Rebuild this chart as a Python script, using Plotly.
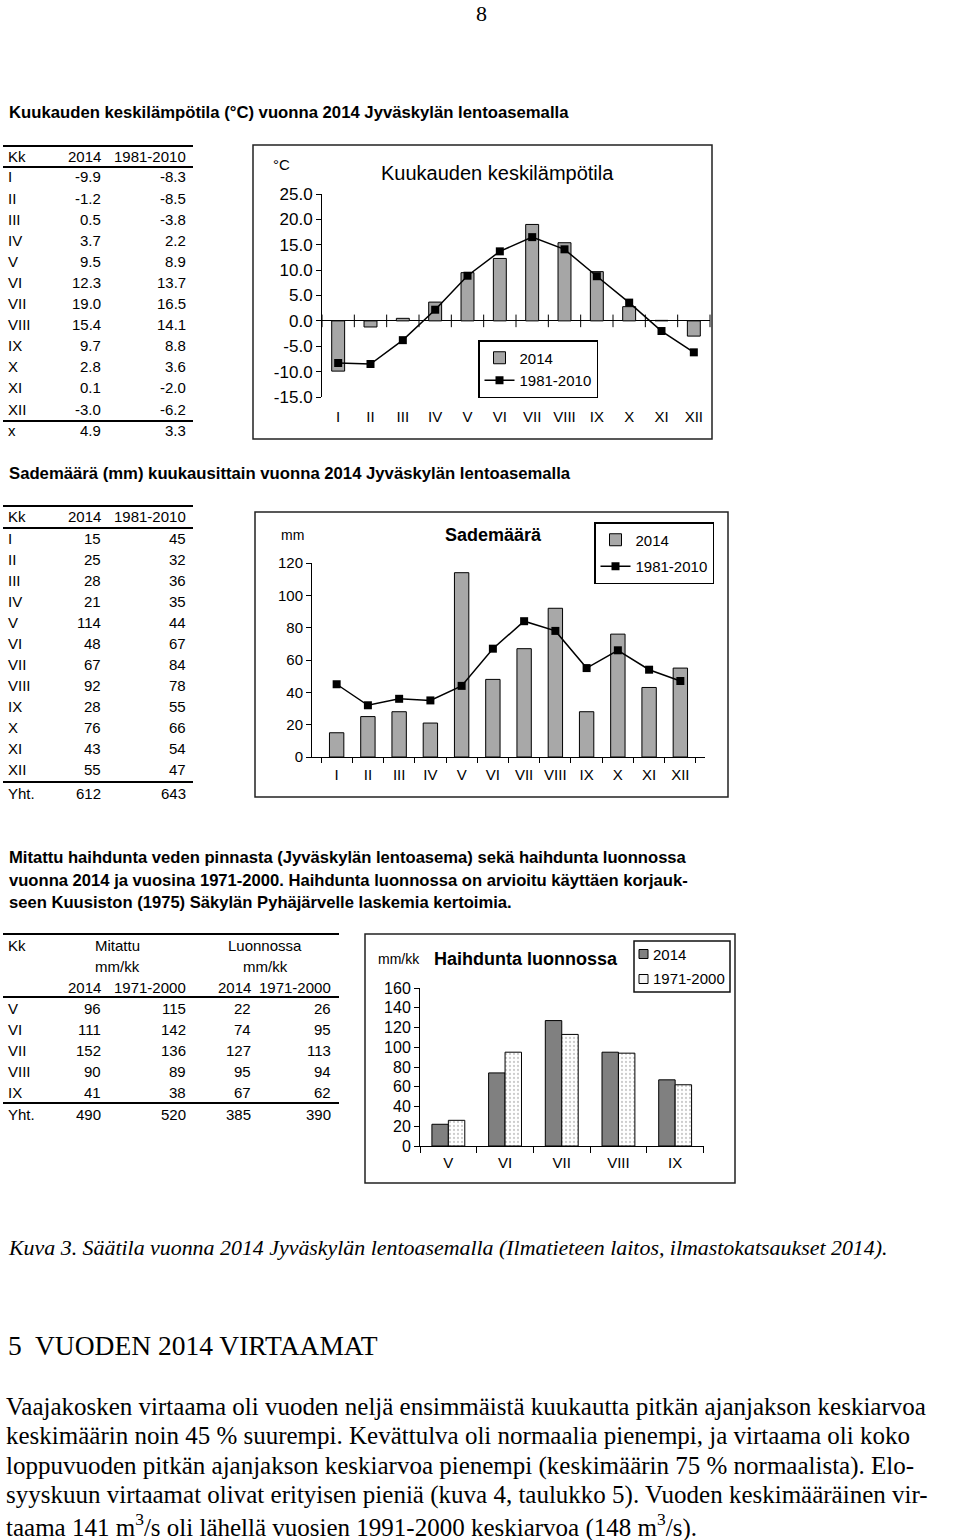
import plotly.graph_objects as go

W, H = 960, 1540
SANS = "Liberation Sans, Arial, sans-serif"
SERIF = "Liberation Serif, Times New Roman, serif"

# --- data -------------------------------------------------------------
months = ['I', 'II', 'III', 'IV', 'V', 'VI', 'VII', 'VIII', 'IX', 'X', 'XI', 'XII']
temp_2014 = [-9.9, -1.2, 0.5, 3.7, 9.5, 12.3, 19.0, 15.4, 9.7, 2.8, 0.1, -3.0]
temp_norm = [-8.3, -8.5, -3.8, 2.2, 8.9, 13.7, 16.5, 14.1, 8.8, 3.6, -2.0, -6.2]
temp_mean = [4.9, 3.3]
temp_ticks = [-15, -10, -5, 0, 5, 10, 15, 20, 25]

rain_2014 = [15, 25, 28, 21, 114, 48, 67, 92, 28, 76, 43, 55]
rain_norm = [45, 32, 36, 35, 44, 67, 84, 78, 55, 66, 54, 47]
rain_total = [612, 643]

evap_months = ['V', 'VI', 'VII', 'VIII', 'IX']
evap_meas_2014 = [96, 111, 152, 90, 41]
evap_meas_norm = [115, 142, 136, 89, 38]
evap_nat_2014 = [22, 74, 127, 95, 67]
evap_nat_norm = [26, 95, 113, 94, 62]
evap_total = [490, 520, 385, 390]

col_2014_evap = '#808080'


def px(x):
    return x / W


def py(y):
    return 1 - y / H


ann = []
shapes = []


def text(x, y, s, size=15, anchor='left', family=SANS):
    ann.append(dict(x=px(x), y=py(y), xref='paper', yref='paper', text=s,
                    showarrow=False, xanchor=anchor, yanchor='middle',
                    font=dict(size=size, family=family, color='black')))


def rule(x0, x1, y, w=2):
    shapes.append(dict(type='line', xref='paper', yref='paper', x0=px(x0), x1=px(x1),
                       y0=py(y), y1=py(y), line=dict(color='black', width=w)))


def frame(x0, y0, x1, y1, w=1.5, fill='rgba(0,0,0,0)', color='#222'):
    shapes.append(dict(type='rect', xref='paper', yref='paper', x0=px(x0), x1=px(x1),
                       y0=py(y0), y1=py(y1), fillcolor=fill, line=dict(color=color, width=w)))


# --- page texts --------------------------------------------------------
text(481, 13, '8', size=22, anchor='center', family=SERIF)
text(7, 113, '<b>Kuukauden keskilämpötila (°C) vuonna 2014 Jyväskylän lentoasemalla</b>', size=16.7)
text(7, 474, '<b>Sademäärä (mm) kuukausittain vuonna 2014 Jyväskylän lentoasemalla</b>', size=16.7)
evap_par = ['Mitattu haihdunta veden pinnasta (Jyväskylän lentoasema) sekä haihdunta luonnossa',
            'vuonna 2014 ja vuosina 1971-2000. Haihdunta luonnossa on arvioitu käyttäen korjauk-',
            'seen Kuusiston (1975) Säkylän Pyhäjärvelle laskemia kertoimia.']
for i, line in enumerate(evap_par):
    text(7, 857 + 23 * i, '<b>' + line + '</b>', size=16.6)

text(6, 1247, '<i>Kuva 3. Säätila vuonna 2014 Jyväskylän lentoasemalla (Ilmatieteen laitos, ilmastokatsaukset 2014).</i>',
     size=21.9, family=SERIF)
text(6, 1345, '5  VUODEN 2014 VIRTAAMAT', size=27.5, family=SERIF)
body = ['Vaajakosken virtaama oli vuoden neljä ensimmäistä kuukautta pitkän ajanjakson keskiarvoa',
        'keskimäärin noin 45 % suurempi. Kevättulva oli normaalia pienempi, ja virtaama oli koko',
        'loppuvuoden pitkän ajanjakson keskiarvoa pienempi (keskimäärin 75 % normaalista). Elo-',
        'syyskuun virtaamat olivat erityisen pieniä (kuva 4, taulukko 5). Vuoden keskimääräinen vir-',
        'taama 141 m<sup>3</sup>/s oli lähellä vuosien 1991-2000 keskiarvoa (148 m<sup>3</sup>/s).']
for i, line in enumerate(body):
    text(4, 1406 + 29.8 * i, line, size=25, family=SERIF)

# --- table 1: temperature ---------------------------------------------
rule(3, 193, 146)
text(6, 156, 'Kk')
text(103, 156, '2014', anchor='right')
text(188, 156, '1981-2010', anchor='right')
rule(3, 193, 167)
for i, m in enumerate(months):
    yy = 177 + 21.1 * i
    text(6, yy, m)
    text(103, yy, f'{temp_2014[i]:.1f}', anchor='right')
    text(188, yy, f'{temp_norm[i]:.1f}', anchor='right')
rule(3, 193, 421)
text(6, 431, 'x')
text(103, 431, f'{temp_mean[0]:.1f}', anchor='right')
text(188, 431, f'{temp_mean[1]:.1f}', anchor='right')

# --- table 2: precipitation -------------------------------------------
rule(3, 193, 506)
text(6, 517, 'Kk')
text(103, 517, '2014', anchor='right')
text(188, 517, '1981-2010', anchor='right')
rule(3, 193, 528)
for i, m in enumerate(months):
    yy = 538.5 + 21 * i
    text(6, yy, m)
    text(103, yy, str(rain_2014[i]), anchor='right')
    text(188, yy, str(rain_norm[i]), anchor='right')
rule(3, 193, 782)
text(6, 793, 'Yht.')
text(103, 793, str(rain_total[0]), anchor='right')
text(188, 793, str(rain_total[1]), anchor='right')

# --- table 3: evaporation ---------------------------------------------
rule(3, 339, 934)
text(6, 945, 'Kk')
text(117, 945, 'Mitattu', anchor='center')
text(265, 945, 'Luonnossa', anchor='center')
text(117, 966, 'mm/kk', anchor='center')
text(265, 966, 'mm/kk', anchor='center')
for xr, lab in zip([103, 188, 253, 333], ['2014', '1971-2000', '2014', '1971-2000']):
    text(xr, 987, lab, anchor='right')
rule(3, 339, 997)
for i, m in enumerate(evap_months):
    yy = 1008 + 21 * i
    text(6, yy, m)
    vals = [evap_meas_2014[i], evap_meas_norm[i], evap_nat_2014[i], evap_nat_norm[i]]
    for xr, v in zip([103, 188, 253, 333], vals):
        text(xr, yy, str(v), anchor='right')
rule(3, 339, 1103)
text(6, 1114, 'Yht.')
for xr, v in zip([103, 188, 253, 333], evap_total):
    text(xr, 1114, str(v), anchor='right')

# --- chart frames and labels ------------------------------------------
frame(253, 145, 712, 439)
frame(255, 512, 728, 797)
frame(365, 934, 735, 1183)
text(281, 165, '°C', size=15, anchor='center')
text(497, 173, 'Kuukauden keskilämpötila', size=20, anchor='center')
text(292, 535, 'mm', size=14, anchor='center')
text(493, 535, '<b>Sademäärä</b>', size=18, anchor='center')
text(399, 959, 'mm/kk', size=14, anchor='center')
text(526, 959, '<b>Haihdunta luonnossa</b>', size=18, anchor='center')

# small legend box for the evaporation chart (plotly legend is too wide here)
frame(634, 941, 730, 992, w=1.5, fill='white', color='#111')
frame(639, 949.5, 648, 958.5, w=1, fill=col_2014_evap, color='black')
frame(639, 974.5, 648, 983.5, w=1, fill='#f4f4f4', color='black')
text(651, 954, '2014', size=15)
text(651, 979, '1971-2000', size=15)

fig = go.Figure()

# chart 1: temperature
idx = list(range(len(months)))
bounds = [i - 0.5 for i in range(len(months) + 1)]
fig.add_trace(go.Bar(x=idx, y=temp_2014, width=0.4, name='2014',
                     marker=dict(color='#a6a6a6', line=dict(color='black', width=1)),
                     xaxis='x', yaxis='y', legend='legend'))
fig.add_trace(go.Scatter(x=idx, y=temp_norm, mode='lines+markers', name='1981-2010',
                         line=dict(color='black', width=1.5),
                         marker=dict(symbol='square', size=8, color='black'),
                         xaxis='x', yaxis='y', legend='legend'))
fig.add_trace(go.Scatter(x=bounds, y=[0] * len(bounds), mode='markers', showlegend=False,
                         marker=dict(symbol='line-ns-open', size=9, color='black',
                                     line=dict(color='black', width=1)),
                         cliponaxis=False, hoverinfo='skip', xaxis='x', yaxis='y'))

# chart 2: precipitation
fig.add_trace(go.Bar(x=months, y=rain_2014, width=0.46, name='2014',
                     marker=dict(color='#a8a8a8', line=dict(color='black', width=1)),
                     xaxis='x2', yaxis='y2', legend='legend2', legendgroup='a'))
fig.add_trace(go.Scatter(x=months, y=rain_norm, mode='lines+markers', name='1981-2010',
                         line=dict(color='black', width=1.5),
                         marker=dict(symbol='square', size=8, color='black'),
                         xaxis='x2', yaxis='y2', legend='legend2', legendgroup='b'))

# chart 3: evaporation in nature
fig.add_trace(go.Bar(x=evap_months, y=evap_nat_2014, width=0.29, offset=-0.29, name='2014',
                     marker=dict(color=col_2014_evap, line=dict(color='black', width=1)),
                     xaxis='x3', yaxis='y3', showlegend=False))
fig.add_trace(go.Bar(x=evap_months, y=evap_nat_norm, width=0.29, offset=0, name='1971-2000',
                     marker=dict(color='white', line=dict(color='black', width=1),
                                 pattern=dict(shape='.', fgcolor='#9a9a9a', bgcolor='white',
                                              size=4, solidity=0.25)),
                     xaxis='x3', yaxis='y3', showlegend=False))

axis_font = dict(family=SANS, size=15, color='black')
fig.update_layout(
    width=W, height=H, margin=dict(l=0, r=0, t=0, b=0, autoexpand=False),
    paper_bgcolor='white', plot_bgcolor='rgba(0,0,0,0)',
    font=dict(family=SANS, color='black'),
    barmode='overlay',
    annotations=ann, shapes=shapes,
    xaxis=dict(domain=[px(322), px(710)], anchor='y', range=[-0.5, len(months) - 0.5],
               tickmode='array', tickvals=idx, ticktext=months, showline=False,
               showgrid=False, zeroline=False, ticks='outside', ticklen=6,
               tickcolor='rgba(0,0,0,0)', tickfont=axis_font, tickangle=0),
    yaxis=dict(domain=[py(397), py(194)], anchor='x', range=[-15, 25],
               tickmode='array', tickvals=temp_ticks,
               ticktext=[f'{v:.1f}' for v in temp_ticks],
               showline=True, linecolor='black', linewidth=1,
               ticks='outside', ticklen=5, tickcolor='black', showgrid=False,
               zeroline=True, zerolinecolor='black', zerolinewidth=1,
               tickfont=dict(family=SANS, size=17, color='black')),
    xaxis2=dict(domain=[px(312), px(705)], anchor='y2', type='category',
                tickson='boundaries', ticks='outside', ticklen=5, tickcolor='black',
                showline=True, linecolor='black', linewidth=1, showgrid=False,
                tickfont=axis_font, tickangle=0, ticklabelstandoff=4),
    yaxis2=dict(domain=[py(757), py(563)], anchor='x2', range=[0, 120], dtick=20,
                showline=True, linecolor='black', linewidth=1, ticks='outside',
                ticklen=5, tickcolor='black', showgrid=False, zeroline=False,
                tickfont=axis_font),
    xaxis3=dict(domain=[px(420), px(703.5)], anchor='y3', type='category',
                tickson='boundaries', ticks='outside', ticklen=6, tickcolor='black',
                showline=True, linecolor='black', linewidth=1, showgrid=False,
                tickfont=axis_font, tickangle=0, ticklabelstandoff=3),
    yaxis3=dict(domain=[py(1146), py(988)], anchor='x3', range=[0, 160], dtick=20,
                showline=True, linecolor='black', linewidth=1, ticks='outside',
                ticklen=5, tickcolor='black', showgrid=False, zeroline=False,
                tickfont=dict(family=SANS, size=16, color='black')),
    legend=dict(x=px(478), y=py(340), xanchor='left', yanchor='top',
                bordercolor='black', borderwidth=1.5, bgcolor='white',
                font=dict(family=SANS, size=15, color='black'), tracegroupgap=0),
    legend2=dict(x=px(594), y=py(522), xanchor='left', yanchor='top',
                 bordercolor='black', borderwidth=1.5, bgcolor='white',
                 font=dict(family=SANS, size=15, color='black'), tracegroupgap=4),
)

fig.write_html("out.html", config={'displayModeBar': False},
               post_script="document.body.style.margin='0';")
